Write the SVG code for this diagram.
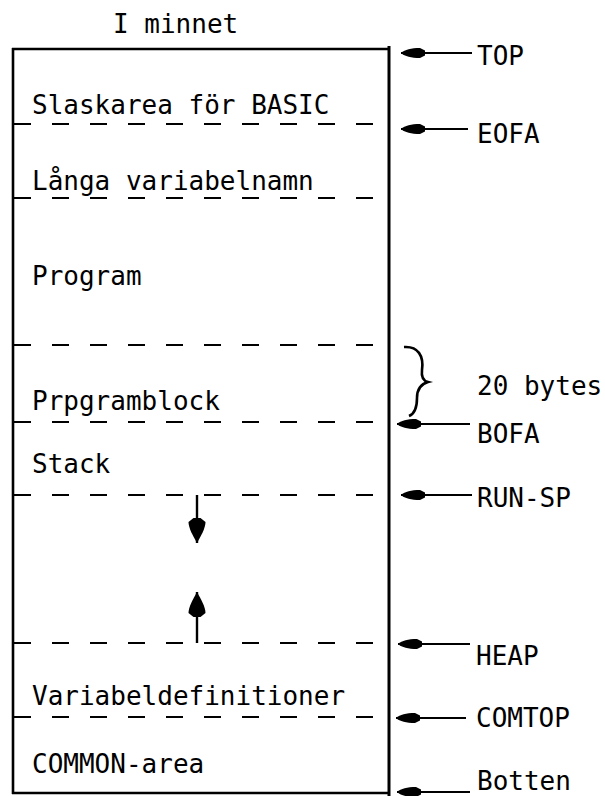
<svg xmlns="http://www.w3.org/2000/svg" width="605" height="796" viewBox="0 0 605 796">
<style>
text{font-family:"DejaVu Sans Mono","Liberation Mono",monospace;font-size:26px;fill:#000}
.solid{stroke:#000;stroke-width:2.6;fill:none}
.dash{stroke:#000;stroke-width:2.2;fill:none;stroke-dasharray:17 21}
.ptr{stroke:#000;stroke-width:1.8;fill:none;marker-start:url(#head)}
.stick{stroke:#000;stroke-width:2.4;fill:none;marker-end:url(#vhead)}
</style>
<defs>
<marker id="head" markerUnits="userSpaceOnUse" viewBox="-1 -7 30 14" refX="0" refY="0" markerWidth="30" markerHeight="14" orient="auto">
<path d="M0,0 C4,-3.5 10,-5 19,-5 L24,-2.5 L24,2.5 L19,5 C10,5 4,3.5 0,0 Z" fill="#000"/>
</marker>
<marker id="vhead" markerUnits="userSpaceOnUse" viewBox="-28 -10 30 20" refX="0" refY="0" markerWidth="30" markerHeight="20" orient="auto">
<path d="M0,0 C-7,-4 -15,-8.5 -21,-8.5 L-25,-3.5 L-25,3.5 L-21,8.5 C-15,8.5 -7,4 0,0 Z" fill="#000"/>
</marker>
</defs>
<rect width="605" height="796" fill="#fff"/>
<g id="title"><text x="113" y="33">I minnet</text></g>
<g id="frame">
<line class="solid" x1="12" y1="49" x2="389" y2="49"/>
<line class="solid" x1="13" y1="48" x2="13" y2="794"/>
<line class="solid" x1="389" y1="46" x2="389" y2="796" style="stroke-width:3"/>
<line class="solid" x1="12" y1="793" x2="389" y2="793"/>
<line class="dash" x1="14" y1="124" x2="389" y2="124"/>
<line class="dash" x1="14" y1="198" x2="389" y2="198"/>
<line class="dash" x1="14" y1="345" x2="389" y2="345"/>
<line class="dash" x1="14" y1="422" x2="389" y2="422"/>
<line class="dash" x1="14" y1="495" x2="389" y2="495"/>
<line class="dash" x1="14" y1="643" x2="389" y2="643"/>
<line class="dash" x1="14" y1="717" x2="389" y2="717"/>
</g>
<g id="slaskarea"><text x="32" y="114">Slaskarea för BASIC</text></g>
<g id="langa"><text x="32" y="190">Långa variabelnamn</text></g>
<g id="program"><text x="32" y="285">Program</text></g>
<g id="prpgramblock"><text x="32" y="410">Prpgramblock</text></g>
<g id="stack"><text x="32" y="473">Stack</text></g>
<g id="variabeldef"><text x="32" y="705">Variabeldefinitioner</text></g>
<g id="common"><text x="32" y="773">COMMON-area</text></g>
<g id="lbl-top"><text x="477" y="65">TOP</text></g>
<g id="lbl-eofa"><text x="477" y="143">EOFA</text></g>
<g id="lbl-20bytes"><text x="477" y="395">20 bytes</text></g>
<g id="lbl-bofa"><text x="477" y="443">BOFA</text></g>
<g id="lbl-runsp"><text x="477" y="507">RUN-SP</text></g>
<g id="lbl-heap"><text x="476" y="665">HEAP</text></g>
<g id="lbl-comtop"><text x="476" y="727">COMTOP</text></g>
<g id="lbl-botten"><text x="477" y="790">Botten</text></g>
<g id="connectors">
<line class="ptr" x1="401" y1="53" x2="472" y2="53"/>
<line class="ptr" x1="401" y1="129" x2="468" y2="129"/>
<line class="ptr" x1="397" y1="424" x2="470" y2="424"/>
<line class="ptr" x1="401" y1="495" x2="472" y2="495"/>
<line class="ptr" x1="398" y1="644" x2="470" y2="644"/>
<line class="ptr" x1="396" y1="718" x2="466" y2="718"/>
<line class="ptr" x1="397" y1="792" x2="470" y2="792"/>
<line class="stick" x1="197" y1="495" x2="197" y2="543"/>
<line class="stick" x1="197" y1="643" x2="197" y2="592"/>
<path d="M404,347 C418,346 424,356 422,370 C421,378 424,381 428,382 C421,384 417,390 417,398 C417,408 414,414 409,416" stroke="#000" stroke-width="2.6" fill="none"/>
</g>
</svg>
